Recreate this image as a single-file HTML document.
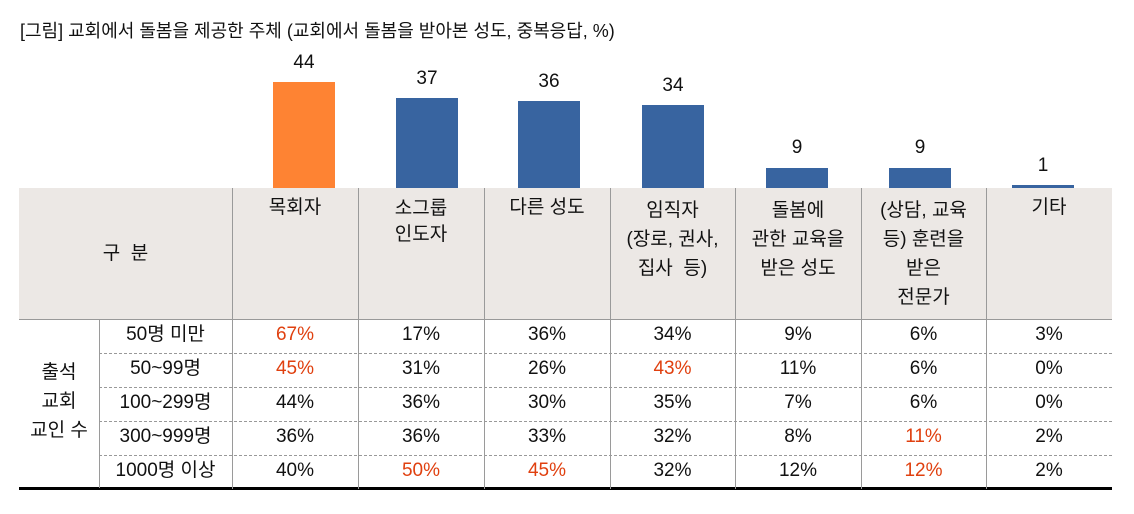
<!DOCTYPE html>
<html><head><meta charset="utf-8"><style>
body{margin:0;width:1134px;height:514px;background:#fff;font-family:"Liberation Sans","Noto Sans CJK KR",sans-serif;color:#111;position:relative;overflow:hidden}
.a{position:absolute}
.t{position:absolute;text-align:center;font-size:19px;line-height:24px}
.bar{position:absolute;background:#3864a0}
.v{position:absolute;width:62px;text-align:center;font-size:19px}
.r{color:#e0400f}
.vl{position:absolute;top:188px;height:301px;width:1px;background:#9a9a9a}
.dl{position:absolute;height:0;border-top:1px dashed #999;left:99px;width:1013px}
</style></head><body>
<div class="a" style="left:20px;top:17px;font-size:18px">[그림] 교회에서 돌봄을 제공한 주체 (교회에서 돌봄을 받아본 성도, 중복응답, %)</div>
<div class="a" style="left:19px;top:188px;width:1093px;height:131px;background:#ece8e5"></div>
<div class="a" style="left:19px;top:319px;width:1093px;height:1px;background:#999"></div>
<div class="a" style="left:19px;top:487px;width:1093px;height:3px;background:#000"></div>
<div class="a" style="left:99px;top:320px;width:1px;height:168px;background:#9a9a9a"></div>
<div class="vl" style="left:232px"></div><div class="vl" style="left:358px"></div><div class="vl" style="left:484px"></div><div class="vl" style="left:610px"></div><div class="vl" style="left:735px"></div><div class="vl" style="left:861px"></div><div class="vl" style="left:986px"></div>
<div class="dl" style="top:353px"></div><div class="dl" style="top:387px"></div><div class="dl" style="top:421px"></div><div class="dl" style="top:455px"></div>
<div class="bar" style="left:273px;top:82px;width:62px;height:106px;background:#fe8333"></div>
<div class="bar" style="left:396px;top:98px;width:62px;height:90px"></div>
<div class="bar" style="left:518px;top:101px;width:62px;height:87px"></div>
<div class="bar" style="left:642px;top:105px;width:62px;height:83px"></div>
<div class="bar" style="left:766px;top:168px;width:62px;height:20px"></div>
<div class="bar" style="left:889px;top:168px;width:62px;height:20px"></div>
<div class="bar" style="left:1012px;top:185px;width:62px;height:3px"></div>
<div class="v" style="left:273px;top:52px">44</div>
<div class="v" style="left:396px;top:68px">37</div>
<div class="v" style="left:518px;top:71px">36</div>
<div class="v" style="left:642px;top:75px">34</div>
<div class="v" style="left:766px;top:137px">9</div>
<div class="v" style="left:889px;top:137px">9</div>
<div class="v" style="left:1012px;top:155px">1</div>
<div class="t" style="left:19px;width:213px;top:242px">구&nbsp; 분</div>
<div class="t" style="left:232px;width:126px;top:196px">목회자</div>
<div class="t" style="left:358px;width:126px;top:196px;line-height:26px">소그룹<br>인도자</div>
<div class="t" style="left:484px;width:126px;top:196px">다른 성도</div>
<div class="t" style="left:610px;width:125px;top:196px;line-height:29px">임직자<br>(장로, 권사,<br>집사&nbsp; 등)</div>
<div class="t" style="left:735px;width:126px;top:196px;line-height:29px">돌봄에<br>관한 교육을<br>받은 성도</div>
<div class="t" style="left:861px;width:125px;top:196px;line-height:29px">(상담, 교육<br>등) 훈련을<br>받은<br>전문가</div>
<div class="t" style="left:986px;width:126px;top:196px">기타</div>
<div class="t" style="left:19px;width:80px;top:358px;line-height:29px">출석<br>교회<br>교인 수</div>
<div id="rows"></div>
<script>
var d=[["50명 미만","67%r","17%","36%","34%","9%","6%","3%"],["50~99명","45%r","31%","26%","43%r","11%","6%","0%"],["100~299명","44%","36%","30%","35%","7%","6%","0%"],["300~999명","36%","36%","33%","32%","8%","11%r","2%"],["1000명 이상","40%","50%r","45%r","32%","12%","12%r","2%"]];
var xs=[99,232,358,484,610,735,861,986,1112],h='';
d.forEach(function(r,i){r.forEach(function(c,j){var red=c.slice(-1)=='r';if(red)c=c.slice(0,-1);
h+='<div class="t'+(red?' r':'')+'" style="left:'+xs[j]+'px;width:'+(xs[j+1]-xs[j])+'px;top:'+(323+i*34)+'px">'+c+'</div>';});});
document.getElementById('rows').outerHTML=h;
</script>
</body></html>
